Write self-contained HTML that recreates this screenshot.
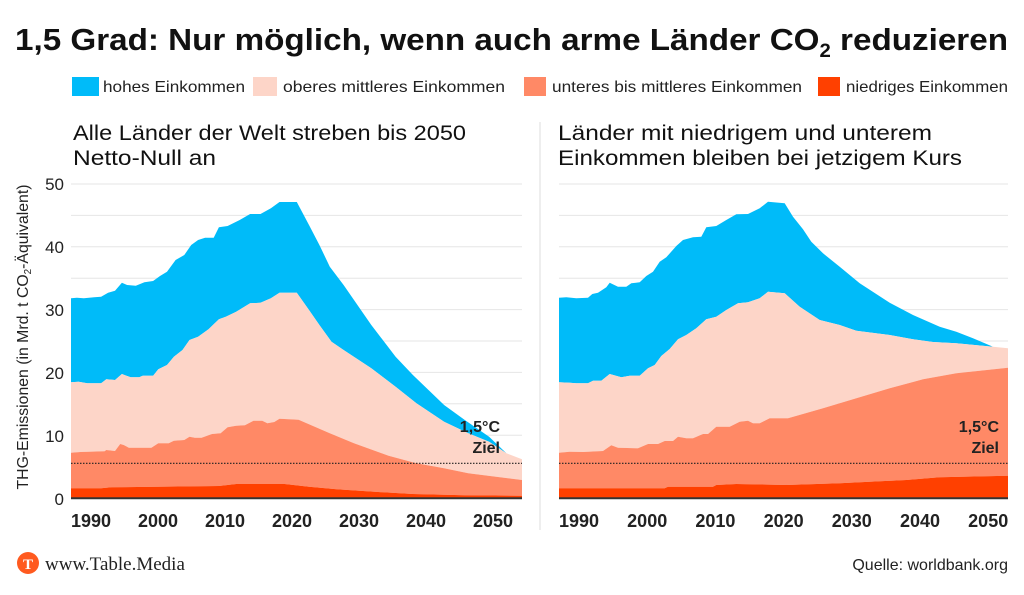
<!DOCTYPE html>
<html><head><meta charset="utf-8"><style>
body{margin:0;width:1024px;height:590px;background:#fff;overflow:hidden;font-family:"Liberation Sans",sans-serif}
</style></head><body>
<svg width="1024" height="590" xmlns="http://www.w3.org/2000/svg" font-family="Liberation Sans, sans-serif">
<text x="15" y="50" font-size="31" font-weight="bold" fill="#111" textLength="993" lengthAdjust="spacingAndGlyphs">1,5 Grad: Nur möglich, wenn auch arme Länder CO<tspan font-size="19" dy="7">2</tspan><tspan dy="-7"> reduzieren</tspan></text>
<rect x="72" y="77" width="27" height="19" fill="#00bbf9"/>
<text x="103" y="92" font-size="16" fill="#222" textLength="142" lengthAdjust="spacingAndGlyphs">hohes Einkommen</text>
<rect x="253" y="77" width="24" height="19" fill="#fdd5c8"/>
<text x="283" y="92" font-size="16" fill="#222" textLength="222" lengthAdjust="spacingAndGlyphs">oberes mittleres Einkommen</text>
<rect x="524" y="77" width="22" height="19" fill="#ff8966"/>
<text x="552" y="92" font-size="16" fill="#222" textLength="250" lengthAdjust="spacingAndGlyphs">unteres bis mittleres Einkommen</text>
<rect x="818" y="77" width="22" height="19" fill="#ff4000"/>
<text x="846" y="92" font-size="16" fill="#222" textLength="162" lengthAdjust="spacingAndGlyphs">niedriges Einkommen</text>
<text x="73" y="140" font-size="21" fill="#111" textLength="393" lengthAdjust="spacingAndGlyphs">Alle Länder der Welt streben bis 2050</text>
<text x="73" y="165" font-size="21" fill="#111" textLength="143" lengthAdjust="spacingAndGlyphs">Netto-Null an</text>
<text x="558" y="140" font-size="21" fill="#111" textLength="374" lengthAdjust="spacingAndGlyphs">Länder mit niedrigem und unterem</text>
<text x="558" y="165" font-size="21" fill="#111" textLength="404" lengthAdjust="spacingAndGlyphs">Einkommen bleiben bei jetzigem Kurs</text>
<line x1="540" y1="122" x2="540" y2="530" stroke="#ddd"/>
<g id="grid" stroke="#e6e6e6" stroke-width="1"></g>
<g id="charts"></g>
<g font-size="17" fill="#222" text-anchor="end">
<text x="64" y="190">50</text><text x="64" y="253">40</text><text x="64" y="316">30</text><text x="64" y="379">20</text><text x="64" y="442">10</text><text x="64" y="505">0</text>
</g>
<text transform="translate(28,337) rotate(-90)" font-size="16" fill="#222" text-anchor="middle" textLength="305" lengthAdjust="spacingAndGlyphs">THG-Emissionen (in Mrd. t CO<tspan font-size="10" dy="3">2</tspan><tspan dy="-3">-Äquivalent)</tspan></text>
<g font-size="18" font-weight="bold" fill="#222" text-anchor="middle" id="years"></g>
<g font-size="16" font-weight="bold" fill="#222" text-anchor="end">
<text x="500" y="432">1,5°C</text><text x="500" y="453">Ziel</text>
<text x="999" y="432">1,5°C</text><text x="999" y="453">Ziel</text>
</g>
<circle cx="28" cy="563" r="11" fill="#ff5a1f"/>
<text x="28" y="569" font-size="15" font-weight="bold" fill="#fff" text-anchor="middle" font-family="Liberation Serif, serif">T</text>
<text x="45" y="570" font-size="19" fill="#222" font-family="Liberation Serif, serif">www.Table.Media</text>
<text x="1008" y="570" font-size="16" fill="#222" text-anchor="end">Quelle: worldbank.org</text>
</svg>
<script>
const NS="http://www.w3.org/2000/svg";
function el(p,t,a){const e=document.createElementNS(NS,t);for(const k in a)e.setAttribute(k,a[k]);p.appendChild(e);return e;}
const grid=document.getElementById('grid');
for(let i=0;i<=10;i++){const y=184+i*31.4;el(grid,'line',{x1:71,x2:522,y1:y,y2:y});el(grid,'line',{x1:559,x2:1008,y1:y,y2:y});}
const charts=document.getElementById('charts');
function tr(pts,ox,sx,zx0){return pts.map(p=>[ox+(p[0]-zx0)*sx,170+p[1]/3]);}
function area(top,bot,fill){const pts=top.concat(bot.slice().reverse());el(charts,'path',{d:'M'+pts.map(p=>p[0].toFixed(1)+','+p[1].toFixed(1)).join('L')+'Z',fill:fill});}
function draw(ox,sx,blue,pink,orange,red,x0,x1,bend){
 const T=p=>tr(p,ox,sx,x0);
 const base=[[x0,985],[x1,985]];
 area(T(blue),T(pink.filter(p=>p[0]<=bend)),'#00bbf9');
 area(T(pink),T(orange),'#fdd5c8');
 area(T(orange),T(red),'#ff8966');
 area(T(red),T(base),'#ff4000');
 const xa=ox, xb=ox+(x1-x0)*sx;
 el(charts,'line',{x1:xa,x2:xb,y1:498.3,y2:498.3,stroke:'#333','stroke-width':2});
 el(charts,'line',{x1:xa,x2:xb,y1:463.3,y2:463.3,stroke:'#222','stroke-width':1.2,'stroke-dasharray':'1.5,1.5'});
}
draw(71,(522-71)/(1515-213),
[[213,385],[230,383],[250,385],[280,382],[300,380],[320,368],[340,362],[360,338],[375,345],[400,347],[425,337],[450,333],[470,318],[490,305],[515,270],[540,255],[560,225],[580,210],[600,203],[625,203],[640,172],[665,168],[700,150],[730,132],[760,132],[790,115],[815,96],[865,96],[900,165],[930,225],[960,290],[1000,345],[1080,465],[1150,560],[1200,615],[1290,705],[1350,750],[1420,800],[1470,850]],
[[213,637],[235,635],[260,640],[300,640],[315,628],[340,630],[360,612],[385,622],[410,622],[420,617],[450,617],[465,598],[490,585],[510,560],[535,540],[555,510],[580,500],[610,478],[640,448],[660,440],[690,425],[730,400],[760,398],[790,385],[815,368],[865,368],[900,420],[930,465],[965,515],[1000,540],[1080,595],[1150,650],[1210,700],[1290,755],[1360,790],[1420,815],[1470,850],[1515,868]],
[[213,848],[240,846],[310,844],[315,840],[340,843],[355,822],[365,825],[380,833],[445,833],[465,820],[495,820],[510,812],[540,810],[555,800],[570,803],[590,803],[620,792],[645,790],[665,772],[690,767],[715,766],[740,752],[765,752],[780,760],[800,756],[815,746],[870,749],[960,790],[1030,820],[1130,857],[1210,880],[1290,895],[1360,910],[1440,920],[1515,930]],
[[213,955],[300,955],[330,952],[640,948],[690,942],[830,942],[900,950],[980,958],[1100,966],[1200,972],[1350,976],[1515,977]],213,1515,1470);
draw(559,1/3,
[[58,383],[80,382],[110,385],[145,383],[158,372],[175,368],[200,352],[210,338],[235,350],[260,350],[275,340],[300,337],[320,318],[340,305],[360,275],[380,262],[410,228],[430,210],[460,202],[485,200],[500,172],[530,168],[560,150],[590,133],[625,132],[660,115],[685,95],[735,100],[760,140],[790,178],[815,215],[850,250],[900,290],[960,340],[1050,398],[1120,435],[1200,470],[1250,485],[1300,505],[1360,530]],
[[58,637],[90,638],[110,640],[145,640],[160,632],[185,632],[210,612],[245,622],[270,617],[300,617],[325,595],[345,585],[365,558],[390,537],[415,508],[440,495],[470,475],[500,448],[530,440],[560,420],[595,400],[625,397],[660,385],[685,365],[735,370],[780,410],[840,450],[900,465],[950,482],[1050,495],[1120,508],[1180,516],[1250,520],[1360,530],[1405,535]],
[[58,848],[90,845],[130,846],[190,843],[215,826],[235,833],[295,835],[325,822],[355,822],[375,813],[400,813],[415,800],[440,805],[460,805],[490,792],[505,792],[530,770],[570,770],[600,755],[625,752],[640,760],[660,760],[690,745],[745,745],[850,715],[950,685],[1050,655],[1150,628],[1250,610],[1405,593]],
[[58,955],[375,955],[385,950],[520,950],[530,945],[590,942],[740,945],[900,940],[1100,930],[1200,922],[1405,917]],58,1405,1360);
const yrs=document.getElementById('years');
for(let i=0;i<7;i++){
 el(yrs,'text',{x:91+i*67,y:527}).textContent=1990+i*10;
 el(yrs,'text',{x:579+i*68.2,y:527}).textContent=1990+i*10;
}
</script>
</body></html>
